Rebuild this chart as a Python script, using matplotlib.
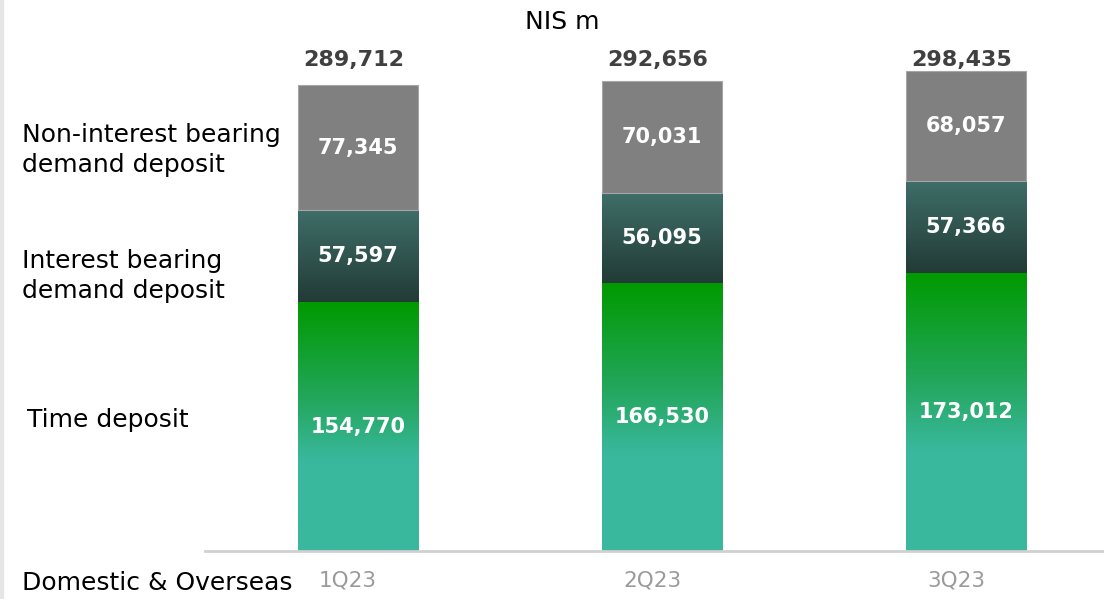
import matplotlib
matplotlib.use("Agg")
import matplotlib.pyplot as plt
import matplotlib.transforms as mtransforms
import numpy as np
from matplotlib.colors import LinearSegmentedColormap

quarters = ["1Q23", "2Q23", "3Q23"]
time_deposit = [154770, 166530, 173012]
interest_demand = [57597, 56095, 57366]
non_interest_demand = [77345, 70031, 68057]
totals = [289712, 292656, 298435]

W, H = 1104, 599
fig = plt.figure(figsize=(W / 100, H / 100), dpi=100)
FONT = "DejaVu Sans"

def px_axes(l, t, r, b):
    return [l / W, 1 - b / H, (r - l) / W, (b - t) / H]

ax = fig.add_axes(px_axes(205, 40, 1104, 551))
x = np.arange(len(quarters))
bw = 0.395

green_cmap = LinearSegmentedColormap.from_list(
    "g", [(0.0, "#3ab89e"), (0.36, "#3ab89e"), (0.62, "#22a65a"), (1.0, "#009a00")])
dark_cmap = LinearSegmentedColormap.from_list(
    "d", [(0.0, "#223b36"), (1.0, "#3f6e68")])

def gradient_fill(bars, cmap):
    grad = np.linspace(0, 1, 256).reshape(-1, 1)
    for b in bars:
        x0, y0 = b.get_x(), b.get_y()
        w, h = b.get_width(), b.get_height()
        im = ax.imshow(grad, cmap=cmap, origin="lower", aspect="auto",
                       extent=(x0, x0 + w, y0, y0 + h), zorder=2,
                       interpolation="bilinear")
        im.set_clip_path(b)
        b.set_facecolor("none")

b1 = ax.bar(x, time_deposit, bw, color="#3ab89e", zorder=1, linewidth=0)
b2 = ax.bar(x, interest_demand, bw, bottom=time_deposit, color="#2f5550",
            zorder=1, linewidth=0)
bottom3 = np.array(time_deposit) + np.array(interest_demand)
b3 = ax.bar(x, non_interest_demand, bw, bottom=bottom3, color="#808080",
            edgecolor="#a6a6a6", linewidth=0.8, zorder=3)
gradient_fill(b1, green_cmap)
gradient_fill(b2, dark_cmap)
ax.set_xlim(-0.503, 2.454)
ax.set_ylim(0, 318000)

lab_kw = dict(ha="center", va="center", color="white", fontsize=15,
              fontweight="bold", family=FONT, zorder=5)
for i in range(len(quarters)):
    ax.text(x[i], time_deposit[i] / 2, f"{time_deposit[i]:,}", **lab_kw)
    ax.text(x[i], time_deposit[i] + interest_demand[i] / 2,
            f"{interest_demand[i]:,}", **lab_kw)
    ax.text(x[i], bottom3[i] + non_interest_demand[i] / 2,
            f"{non_interest_demand[i]:,}", **lab_kw)
    ax.text(x[i] - 0.015, 1 - 20 / 511, f"{totals[i]:,}",
            transform=ax.get_xaxis_transform(),
            ha="center", va="center", color="#404040", fontsize=16,
            fontweight="bold", family=FONT)

for s in ["top", "right", "left"]:
    ax.spines[s].set_visible(False)
ax.spines["bottom"].set_color("#d0d0d0")
ax.spines["bottom"].set_linewidth(2)
ax.set_yticks([])
ax.set_xticks(x)
ax.set_xticklabels(quarters, fontsize=15.5, color="#9a9a9a", family=FONT)
ax.tick_params(axis="x", length=0, pad=14)
offset = mtransforms.ScaledTranslation(-10 / 100, 0, fig.dpi_scale_trans)
for lbl in ax.get_xticklabels():
    lbl.set_transform(lbl.get_transform() + offset)

def ftext(px, py, s, **kw):
    fig.text(px / W, 1 - py / H, s, family=FONT, **kw)

ftext(562, 22, "NIS m", ha="center", va="center", fontsize=18, color="black")
ftext(22, 150, "Non-interest bearing\ndemand deposit", ha="left", va="center",
      fontsize=18, color="black", linespacing=1.3)
ftext(22, 276, "Interest bearing\ndemand deposit", ha="left", va="center",
      fontsize=18, color="black", linespacing=1.35)
ftext(27, 420, "Time deposit", ha="left", va="center", fontsize=18, color="black")
ftext(22, 583, "Domestic & Overseas", ha="left", va="center", fontsize=18,
      color="black")

fig.patches.append(plt.Rectangle((0, 0), 3 / W, 1, transform=fig.transFigure,
                                 color="#e6e6e6", zorder=0))

fig.savefig("out.png", dpi=100)
